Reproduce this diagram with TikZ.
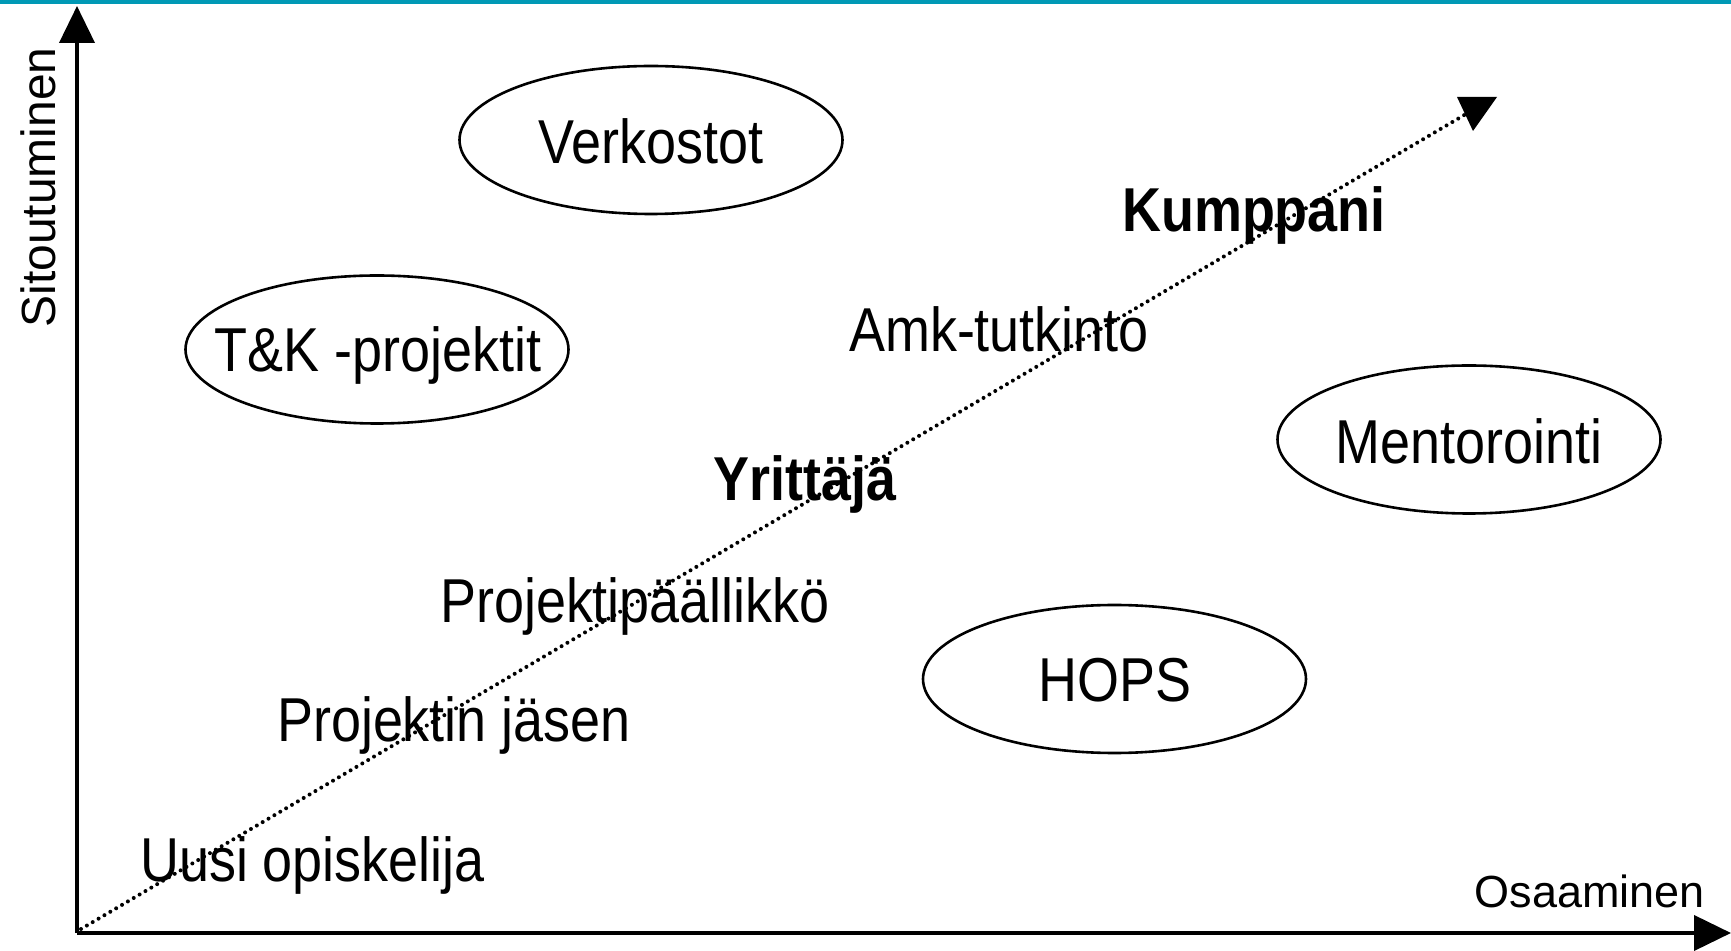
\documentclass[tikz,border=0pt]{standalone}
\usepackage{fontspec}
\setmainfont{Liberation Sans}
\newfontfamily\condfont[FakeStretch=0.87]{Liberation Sans}
\usetikzlibrary{arrows.meta}
\definecolor{teal1}{HTML}{0099B5}
\tikzset{
  lbl/.style={inner sep=0pt, anchor=base, font=\condfont\fontsize{31}{36}\selectfont},
  blbl/.style={inner sep=0pt, anchor=base, font=\condfont\fontsize{31}{36}\selectfont\bfseries},
  axlbl/.style={inner sep=0pt, anchor=base, font=\fontsize{22.5}{27}\selectfont},
  ell/.style={draw, line width=1.3pt},
  axis/.style={line width=2pt, -{Triangle[length=18.5pt,width=17.5pt]}},
  dotline/.style={line width=2pt, line cap=round, dash pattern=on 0pt off 3.4pt}
}
\begin{document}
\begin{tikzpicture}[x=0.5pt,y=-0.5pt]
\useasboundingbox (0,0) rectangle (1731,951);
\fill[teal1] (0,0) rectangle (1731,4);
% axes
\coordinate (O) at (77,933);
\coordinate (Ytop) at (77,6);
\coordinate (Xend) at (1731,933);
\draw[axis] (O) -- (Ytop);
\draw[axis] (O) -- (Xend);
\node[axlbl, rotate=90, font=\fontsize{24}{28}\selectfont] (ylab) at (55,187.5) {Sitoutuminen};
\node[axlbl, anchor=base east] (xlab) at (1705,907) {Osaaminen};
% dotted diagonal
\coordinate (ds) at (81,929);
\coordinate (de) at (1466,114);
\draw[dotline] (ds) -- (de);
\fill (1457,97) -- (1497,97) -- (1473,131) -- cycle;
% ellipses
\draw[ell] (651,140) ellipse [x radius=191.5, y radius=74];
\draw[ell] (377,349.5) ellipse [x radius=191.5, y radius=74];
\draw[ell] (1469,439.5) ellipse [x radius=191.5, y radius=74];
\draw[ell] (1114.5,679) ellipse [x radius=191.5, y radius=74];
\node[lbl] (verk) at (651,164) {Verkostot};
\node[lbl] (tk) at (378,372) {T\&K -projektit};
\node[lbl] (ment) at (1469,464) {Mentorointi};
\node[lbl] (hops) at (1115,702) {HOPS};
% labels
\node[blbl] (kump) at (1254,232) {Kumppani};
\node[lbl] (amk) at (999,352) {Amk-tutkinto};
\node[blbl] (yrit) at (805,501) {Yrittäjä};
\node[lbl] (pp) at (635,623) {Projektipäällikkö};
\node[lbl] (pj) at (454,742) {Projektin jäsen};
\node[lbl] (uo) at (312.5,882) {Uusi opiskelija};
\end{tikzpicture}
\end{document}
